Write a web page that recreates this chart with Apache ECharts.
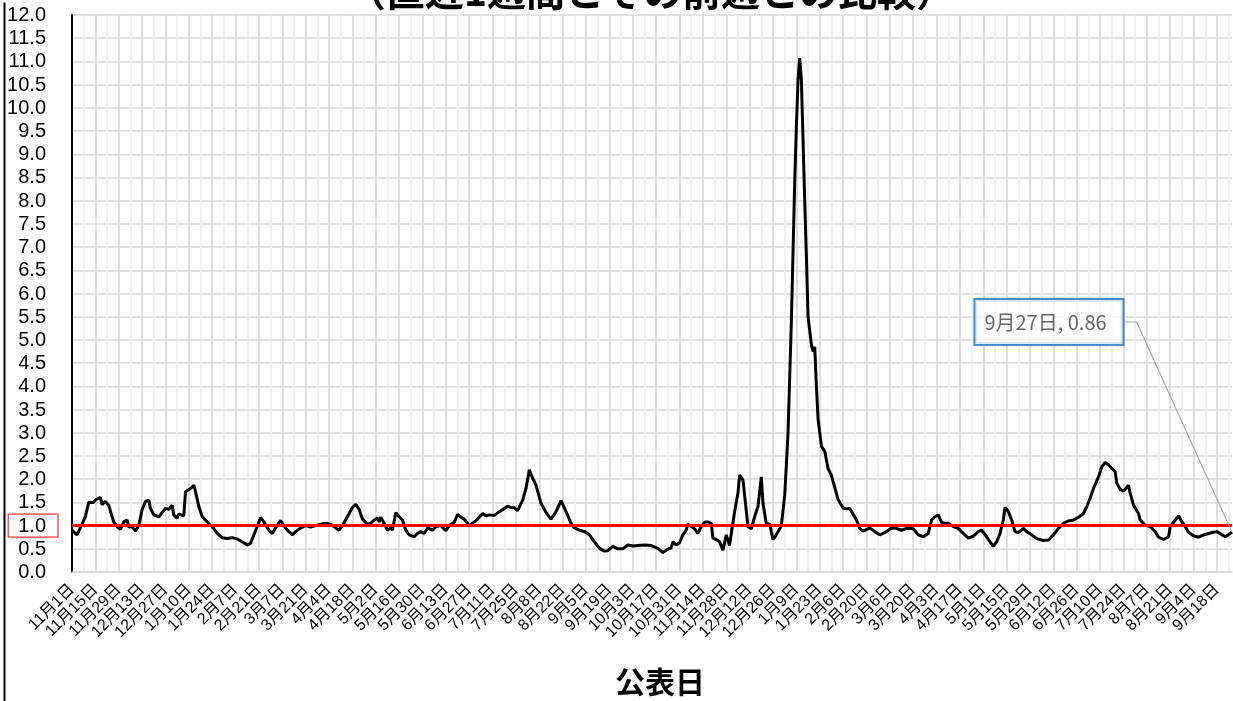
<!DOCTYPE html>
<html>
<head>
<meta charset="utf-8">
<script src="https://cdn.jsdelivr.net/npm/echarts@6/dist/echarts.min.js"></script>
<style>
html,body{margin:0;padding:0;background:#fff;}
#chart{width:1233px;height:701px;}
</style>
</head>
<body>
<div id="chart"></div>
<script>
// ---- data ----
const titleText = '（直近1週間とその前週との比較）';
const xAxisName = '公表日';
const startDate = '2020-11-01';   // first 公表日
const dayCount = 696;             // 2020-11-01 .. 2022-09-27
const thresholdValue = 1.0;
const labelEvery = 14;            // tick label every 14 days

// sampled readings: day number since startDate, and value
const sampleDays = [
  0,3,8,10,13,14,17,18,20,22,24,25,27,29,31,33,34,36,38,40,
  42,44,46,47,49,52,54,56,58,60,61,63,64,67,68,71,73,74,76,78,
  81,84,87,90,93,96,99,102,105,107,109,111,113,115,118,120,123,125,127,129,
  132,134,137,140,143,146,149,152,155,158,160,162,165,168,170,172,174,177,179,181,
  183,184,185,187,189,191,192,194,196,198,200,202,205,207,209,211,213,216,218,221,
  224,226,229,231,233,235,238,241,243,246,248,250,253,256,258,261,263,265,267,270,
  272,274,276,278,281,284,287,290,293,296,299,301,304,307,310,313,316,319,321,324,
  327,330,333,336,339,343,347,351,354,357,359,360,362,364,366,368,369,371,373,375,
  377,379,381,383,384,386,388,390,392,394,395,397,398,399,400,402,403,405,407,409,
  411,413,414,416,418,420,422,424,425,427,428,429,430,431,432,433,434,435,436,437,
  438,439,440,441,443,444,445,446,447,449,451,453,455,457,459,462,464,466,467,470,
  472,474,478,481,484,488,491,494,497,500,504,507,510,513,515,517,519,521,523,525,
  528,531,534,537,540,543,545,548,550,552,554,556,558,559,561,563,565,567,570,572,
  575,578,582,585,588,591,594,597,600,603,606,608,610,612,615,617,619,621,623,625,
  626,628,630,633,634,636,639,640,643,646,649,651,654,657,658,661,663,665,667,669,
  672,675,678,680,683,686,689,691,694,695
];
const sampleValues = [
  0.90,0.80,1.19,1.50,1.50,1.55,1.61,1.45,1.52,1.44,1.19,1.08,0.98,0.92,1.08,1.12,0.97,0.98,0.88,1.00,
  1.34,1.52,1.55,1.37,1.23,1.19,1.28,1.37,1.35,1.44,1.23,1.16,1.25,1.21,1.73,1.80,1.87,1.73,1.41,1.19,
  1.08,0.98,0.83,0.74,0.72,0.74,0.71,0.65,0.58,0.62,0.80,0.98,1.17,1.08,0.90,0.83,1.01,1.11,1.00,0.90,
  0.80,0.87,0.95,1.00,0.97,1.00,1.03,1.05,1.03,0.95,0.90,1.00,1.19,1.39,1.46,1.35,1.14,1.03,1.05,1.12,
  1.16,1.08,1.18,1.05,0.90,0.95,0.90,1.28,1.19,1.12,0.90,0.80,0.76,0.83,0.87,0.83,0.95,0.90,0.98,1.00,
  0.89,1.00,1.07,1.24,1.18,1.14,1.00,1.08,1.14,1.26,1.21,1.23,1.22,1.30,1.34,1.42,1.39,1.39,1.32,1.55,
  1.80,2.20,2.02,1.87,1.48,1.28,1.14,1.30,1.54,1.30,1.05,0.95,0.90,0.87,0.80,0.65,0.51,0.45,0.46,0.55,
  0.50,0.50,0.58,0.56,0.57,0.58,0.57,0.51,0.42,0.49,0.52,0.65,0.58,0.63,0.80,0.90,1.03,0.98,0.93,0.83,
  0.98,1.07,1.08,1.05,0.73,0.70,0.65,0.47,0.80,0.57,0.83,1.30,1.26,1.70,2.09,1.98,1.97,0.98,0.93,1.19,
  1.41,2.05,1.48,1.04,1.03,0.70,0.80,0.93,1.00,1.65,2.30,3.00,4.20,5.40,6.90,8.40,9.60,10.60,11.07,10.60,
  9.30,8.00,6.80,5.50,4.90,4.75,4.85,4.00,3.30,2.71,2.60,2.23,2.08,1.82,1.56,1.38,1.36,1.37,1.37,1.12,
  0.94,0.88,0.95,0.87,0.80,0.87,0.95,0.94,0.90,0.94,0.93,0.80,0.76,0.83,1.12,1.19,1.23,1.07,1.05,1.05,
  0.98,0.94,0.83,0.73,0.77,0.87,0.90,0.76,0.65,0.55,0.65,0.83,1.12,1.39,1.30,1.12,0.87,0.85,0.94,0.87,
  0.80,0.72,0.68,0.69,0.80,0.94,1.05,1.10,1.12,1.18,1.26,1.41,1.59,1.80,2.05,2.27,2.36,2.31,2.23,2.16,
  1.91,1.78,1.74,1.87,1.70,1.44,1.26,1.12,1.01,0.98,0.87,0.75,0.70,0.76,0.98,1.12,1.21,1.08,0.98,0.85,
  0.78,0.75,0.80,0.82,0.85,0.87,0.80,0.76,0.83,0.86
];

// y axis ticks
const yMin = 0, yMax = 12, yStep = 0.5;

// ---- build categories (dates) ----
const categories = [];
(function () {
  const p = startDate.split('-').map(Number);
  const t0 = Date.UTC(p[0], p[1] - 1, p[2]);
  for (let i = 0; i < dayCount; i++) {
    const d = new Date(t0 + i * 86400000);
    categories.push(d.getUTCFullYear() + '-' + (d.getUTCMonth() + 1) + '-' + d.getUTCDate());
  }
})();
function jpDate(cat) {
  const p = cat.split('-');
  return p[1] + '月' + p[2] + '日';
}

const lastIdx = sampleDays.length - 1;
const lineData = sampleDays.map((d, i) => [d, sampleValues[i]]);
const lastPoint = [sampleDays[lastIdx], sampleValues[lastIdx]];
const lastText = jpDate(categories[sampleDays[lastIdx]]) + ', ' + sampleValues[lastIdx].toFixed(2);

const font = "'Liberation Sans', 'Noto Sans CJK JP', sans-serif";
const cjk = "'Noto Sans CJK JP', 'Liberation Sans', sans-serif";
const yRich = {
  fontSize: 20, color: '#000', fontFamily: font, padding: [2, 12, 1, 10]
};
const chart = echarts.init(document.getElementById('chart'));
chart.setOption({
  animation: false,
  backgroundColor: '#fff',
  title: {
    text: titleText,
    left: 342,
    top: -33,
    textStyle: { fontSize: 39, fontWeight: 'bold', color: '#000', fontFamily: cjk }
  },
  grid: { left: 72, right: 1, top: 15, bottom: 129, containLabel: false, outerBoundsMode: 'none' },
  xAxis: {
    type: 'category',
    data: categories,
    boundaryGap: false,
    name: xAxisName,
    nameLocation: 'middle',
    nameGap: 95,
    nameTextStyle: { fontSize: 30, color: '#000', fontFamily: cjk, fontWeight: 'bold', padding: [0, 0, 0, 16] },
    axisLine: { show: true, lineStyle: { color: '#d9d9d9', width: 1.5 } },
    axisTick: { show: false },
    axisLabel: {
      interval: labelEvery - 1,
      rotate: 45,
      fontSize: 16,
      color: '#000',
      margin: 15,
      fontFamily: font,
      formatter: v => jpDate(v)
    },
    splitLine: {
      show: true,
      interval: 6,
      lineStyle: { color: ['#d4d4d4', '#ececec'], width: 1.5 }
    }
  },
  yAxis: {
    type: 'value',
    min: yMin,
    max: yMax,
    interval: yStep,
    axisLine: { show: true, lineStyle: { color: '#000', width: 2 } },
    axisTick: { show: false },
    axisLabel: {
      fontSize: 20,
      color: '#000',
      margin: 14,
      fontFamily: font,
      formatter: v => (v === thresholdValue ? '{hl|' : '{n|') + v.toFixed(1) + '}',
      rich: {
        n: yRich,
        hl: Object.assign({}, yRich, { borderColor: '#ff0000', borderWidth: 1 })
      }
    },
    splitLine: { show: true, lineStyle: { color: '#d9d9d9', width: 1.5 } }
  },
  series: [
    {
      type: 'line',
      name: 'ratio',
      data: lineData,
      showSymbol: false,
      symbol: 'none',
      z: 2,
      lineStyle: { color: '#000', width: 3 }
    },
    {
      type: 'line',
      name: 'threshold',
      data: [[0, thresholdValue], [dayCount - 1, thresholdValue]],
      showSymbol: false,
      symbol: 'none',
      silent: true,
      z: 3,
      lineStyle: { color: '#ff0000', width: 3 }
    },
    {
      type: 'scatter',
      name: 'last',
      data: [lastPoint],
      symbolSize: 1,
      itemStyle: { color: 'rgba(0,0,0,0)' },
      z: 5,
      label: {
        show: true,
        formatter: lastText,
        color: '#404040',
        fontSize: 20,
        fontFamily: cjk,
        backgroundColor: '#fff',
        borderColor: '#1f6fc0',
        borderWidth: 2,
        padding: [12, 16, 12, 9]
      },
      labelLine: { show: true, length2: 12, lineStyle: { color: '#a6a6a6', width: 1.2 } },
      labelLayout: { x: 1049, y: 322, align: 'center', verticalAlign: 'middle' }
    }
  ],
  graphic: [
    { type: 'line', left: 2, top: 0, shape: { x1: 0, y1: 0, x2: 0, y2: 701 }, style: { stroke: '#000', lineWidth: 2 }, silent: true }
  ]
});
</script>
</body>
</html>
